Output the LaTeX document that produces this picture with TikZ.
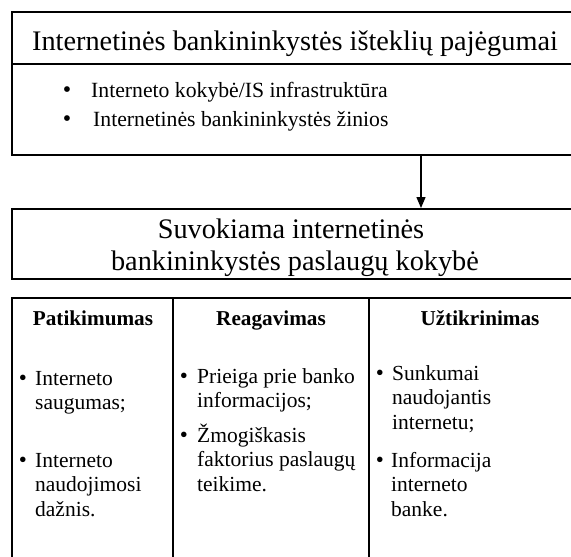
\documentclass[tikz,border=0pt]{standalone}
\usepackage{fontspec}
\setmainfont{Liberation Serif}
\usetikzlibrary{arrows.meta}

% left-aligned lines whose baseline is the first line
\newcommand{\lines}[1]{\begin{tabular}[t]{@{}l@{}}#1\end{tabular}}

\begin{document}
\begin{tikzpicture}[x=1pt,y=-1pt,
  frame/.style={draw, line width=1.6pt, rectangle, anchor=north west, inner sep=0pt},
  bigtext/.style={font=\fontsize{28.3}{31}\selectfont, anchor=base, inner sep=0pt},
  toptext/.style={font=\fontsize{21.7}{24}\selectfont, anchor=base west, inner sep=0pt},
  head/.style={font=\fontsize{21.2}{24}\selectfont\bfseries, anchor=base, inner sep=0pt},
  bul/.style={font=\fontsize{23}{24.5}\selectfont, anchor=base, inner sep=0pt},
  item/.style={font=\fontsize{21.5}{24.5}\selectfont, anchor=base west, inner sep=0pt},
  arr/.style={line width=1.3pt, -{Triangle[length=11pt,width=9pt]}}]
\useasboundingbox (0,0) rectangle (571,557);
\clip (0,0) rectangle (571,557);

% resources box with heading strip
\node[frame, minimum width=600pt, minimum height=143pt] (res) at (11,11) {};
\coordinate (cut) at (0,64);
\draw[line width=1.6pt] (res.west |- cut) -- (res.east |- cut);
\node[bigtext] (restitle) at (295,50) {Internetinės bankininkystės išteklių pajėgumai};
\node[bul, font=\fontsize{24}{24}\selectfont] (rb1) at (67,97) {•};
\node[toptext] (rt1) at (91,97) {Interneto kokybė/IS infrastruktūra};
\node[bul, font=\fontsize{24}{24}\selectfont] (rb2) at (67,126) {•};
\node[toptext] (rt2) at (93,126) {Internetinės bankininkystės žinios};

% perceived quality box
\node[frame, minimum width=600pt, minimum height=70pt] (qual) at (11,208) {};
\node[bigtext] (q1) at (291,238) {Suvokiama internetinės};
\node[bigtext] (q2) at (295,270) {bankininkystės paslaugų kokybė};

% arrow between the two boxes
\coordinate (ax) at (421,0);
\draw[arr] (res.south -| ax) -- (qual.north -| ax);

% three dimension columns
\node[frame, minimum width=161pt, minimum height=320pt] (c1) at (11,297) {};
\node[frame, minimum width=196pt, minimum height=320pt] (c2) at (172,297) {};
\node[frame, minimum width=224pt, minimum height=320pt] (c3) at (368,297) {};

\node[head] (h1) at (93,325) {Patikimumas};
\node[head] (h2) at (271,325) {Reagavimas};
\node[head] (h3) at (480,325) {Užtikrinimas};

% column 1
\node[bul] (b11) at (23,385) {•};
\node[item] (i11) at (35,385) {\lines{Interneto\\saugumas;}};
\node[bul] (b12) at (23,467) {•};
\node[item] (i12) at (35,467) {\lines{Interneto\\naudojimosi\\dažnis.}};

% column 2
\node[bul] (b21) at (184,383) {•};
\node[item] (i21) at (197,383) {\lines{Prieiga prie banko\\informacijos;}};
\node[bul] (b22) at (184,442) {•};
\node[item] (i22) at (197,442) {\lines{Žmogiškasis\\faktorius paslaugų\\teikime.}};

% column 3
\node[bul] (b31) at (380,380) {•};
\node[item] (i31) at (392,380) {\lines{Sunkumai\\naudojantis\\internetu;}};
\node[bul] (b32) at (380,467) {•};
\node[item] (i32) at (391,467) {\lines{Informacija\\interneto\\banke.}};
\end{tikzpicture}
\end{document}
